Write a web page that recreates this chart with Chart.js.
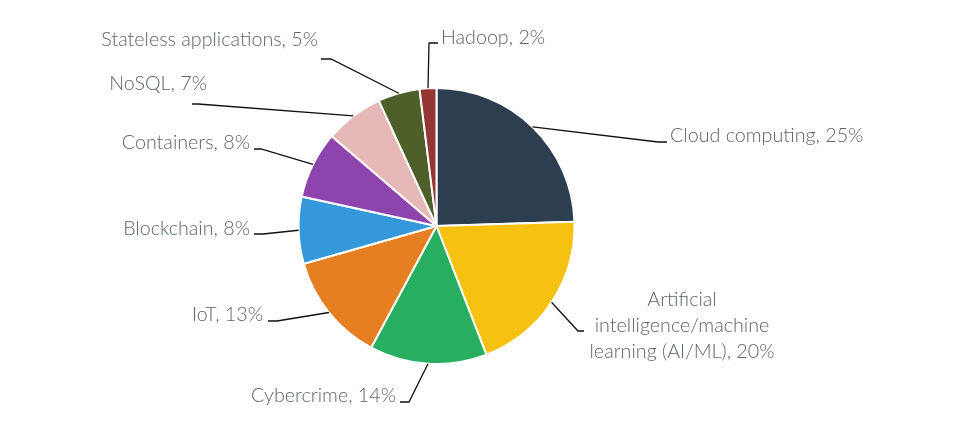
<!DOCTYPE html>
<html>
<head>
<meta charset="utf-8">
<script src="https://cdn.jsdelivr.net/npm/chart.js@4/dist/chart.umd.min.js"></script>
<style>
  html, body { margin: 0; padding: 0; background: #fff; }
  #chart { display: block; }
</style>
</head>
<body>
<canvas id="chart" width="962" height="445"></canvas>
<script>
// data
const categories = [
  "Cloud computing",
  "Artificial intelligence/machine learning (AI/ML)",
  "Cybercrime",
  "IoT",
  "Blockchain",
  "Containers",
  "NoSQL",
  "Stateless applications",
  "Hadoop"
];
const shares = [25, 20, 14, 13, 8, 8, 7, 5, 2];
const sliceColors = [
  "#2c3e50", "#f6c110", "#27ae60", "#e67e22", "#3498db",
  "#8e44ad", "#e6b8b7", "#4e5f2a", "#943634"
];
// label text lines (AI/ML wraps over three lines)
const labelLines = [
  ["Cloud computing, 25%"],
  ["Artificial", "intelligence/machine", "learning (AI/ML), 20%"],
  ["Cybercrime, 14%"],
  ["IoT, 13%"],
  ["Blockchain, 8%"],
  ["Containers, 8%"],
  ["NoSQL, 7%"],
  ["Stateless applications, 5%"],
  ["Hadoop, 2%"]
];

// leader line layout: elbow point, end point, text anchor [x, y(baseline of first line)], align
const labelLayout = [
  { elbow: [658, 142], end: [667, 142], text: [670, 142], align: "left" },
  { elbow: [578, 331], end: [584, 331], text: [682, 306], align: "center" },
  { elbow: [409, 402], end: [400, 402], text: [396, 402], align: "right" },
  { elbow: [277, 321], end: [268, 321], text: [263, 321], align: "right" },
  { elbow: [263, 234], end: [254, 234], text: [250, 235], align: "right" },
  { elbow: [261, 149], end: [254, 149], text: [250, 149], align: "right" },
  { elbow: [198, 104], end: [192, 104], text: [207, 90], align: "right" },
  { elbow: [331, 59], end: [321, 59], text: [318, 46], align: "right" },
  { elbow: [429, 43], end: [438, 43], text: [441, 44], align: "left" }
];

const leaderLabels = {
  id: "leaderLabels",
  afterDatasetsDraw(chart) {
    const ctx = chart.ctx;
    const arcs = chart.getDatasetMeta(0).data;
    ctx.save();
    arcs.forEach((arc, i) => {
      const lay = labelLayout[i];
      const mid = (arc.startAngle + arc.endAngle) / 2;
      const sx = arc.x + Math.cos(mid) * arc.outerRadius;
      const sy = arc.y + Math.sin(mid) * arc.outerRadius;
      ctx.beginPath();
      ctx.moveTo(sx, sy);
      ctx.lineTo(lay.elbow[0], lay.elbow[1]);
      ctx.lineTo(lay.end[0], lay.end[1]);
      ctx.strokeStyle = "#111";
      ctx.lineWidth = 1.3;
      ctx.stroke();

      ctx.fillStyle = "#5c636c";
      ctx.font = "300 19.7px Lato, sans-serif";
      ctx.textAlign = lay.align;
      ctx.textBaseline = "alphabetic";
      labelLines[i].forEach((line, k) => {
        ctx.fillText(line, lay.text[0], lay.text[1] + k * 26);
      });
    });
    ctx.restore();
  }
};

new Chart(document.getElementById("chart"), {
  type: "pie",
  data: {
    labels: categories,
    datasets: [{
      data: shares,
      backgroundColor: sliceColors,
      borderColor: "#ffffff",
      borderWidth: 2,
      radius: 138
    }]
  },
  options: {
    responsive: false,
    animation: false,
    layout: { padding: { left: 0, right: 89, top: 88, bottom: 81 } },
    plugins: {
      legend: { display: false },
      tooltip: { enabled: false }
    }
  },
  plugins: [leaderLabels]
});
</script>
</body>
</html>
